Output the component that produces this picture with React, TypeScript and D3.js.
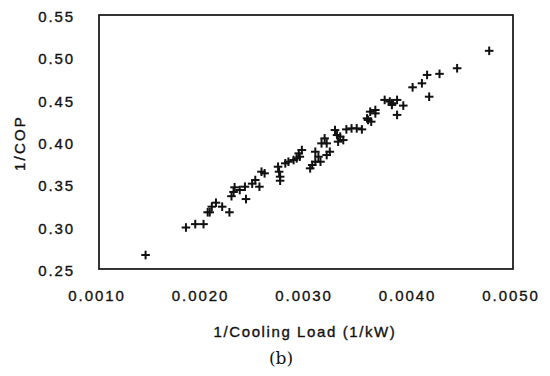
import React, { useMemo } from 'react';
import * as d3 from 'd3';

// 1/Cooling Load (1/kW) vs 1/COP
const loadInv: number[] = [
  0.00145, 0.00184, 0.00193, 0.00201, 0.00205, 0.00207, 0.00209, 0.00213, 0.00219,
  0.00226, 0.00228, 0.0023, 0.00231, 0.00236, 0.00242, 0.00241, 0.00248, 0.00251,
  0.00255, 0.00257, 0.0026, 0.00273, 0.00274, 0.00275, 0.00275, 0.0028, 0.00283,
  0.00288, 0.00291, 0.00294, 0.00293, 0.00296, 0.00304, 0.00306, 0.00309, 0.00312,
  0.00309, 0.00314, 0.00315, 0.00318, 0.0032, 0.0032, 0.00323, 0.00328, 0.0033,
  0.00333, 0.00331, 0.00336, 0.00339, 0.00344, 0.00349, 0.00354, 0.00359, 0.00362,
  0.00367, 0.00367, 0.0036, 0.00363, 0.00376, 0.00381, 0.00383, 0.00383, 0.00388,
  0.00388, 0.00394, 0.00403, 0.00412, 0.00417, 0.00429, 0.00419, 0.00446, 0.00477,
];
const copInv: number[] = [
  0.2665, 0.299, 0.303, 0.303, 0.317, 0.317, 0.3236, 0.3283, 0.3236,
  0.317, 0.336, 0.341, 0.3465, 0.3433, 0.3326, 0.3472, 0.3508, 0.3551,
  0.3472, 0.3649, 0.363, 0.3708, 0.3649, 0.359, 0.3543, 0.3748, 0.3767,
  0.3787, 0.3807, 0.3826, 0.3866, 0.3905, 0.3689, 0.3728, 0.3767, 0.3826,
  0.3885, 0.3767, 0.3984, 0.4043, 0.3846, 0.3984, 0.3885, 0.4141, 0.4082,
  0.4063, 0.4004, 0.4023, 0.4149, 0.4161, 0.4161, 0.4149, 0.4279, 0.4358,
  0.4338, 0.4378, 0.426, 0.424, 0.4497, 0.4478, 0.4438, 0.4458, 0.4497,
  0.432, 0.443, 0.4646, 0.4693, 0.4792, 0.4805, 0.4535, 0.4871, 0.5077,
];

const xTicks: number[] = [0.001, 0.002, 0.003, 0.004, 0.005];
const yTicks: number[] = [0.25, 0.3, 0.35, 0.4, 0.45, 0.5, 0.55];

const W = 550;
const H = 376;
const plot = { left: 99, right: 513, top: 15, bottom: 269 };
const FONT = '"Liberation Sans", Arial, sans-serif';

// shared look for the sans labels, a hair heavier like the scanned original
const labelStyle = {
  fontFamily: FONT,
  fontSize: 15,
  fill: '#111',
  stroke: '#111',
  strokeWidth: 0.35,
};

const App: React.FC = () => {
  const x = useMemo(() => d3.scaleLinear().domain([0.001, 0.005]).range([plot.left, plot.right]), []);
  const y = useMemo(() => d3.scaleLinear().domain([0.25, 0.55]).range([plot.bottom, plot.top]), []);

  const points = useMemo(
    () => loadInv.map((v, i) => ({ cx: x(v), cy: y(copInv[i]) })),
    [x, y]
  );

  const arm = 4.3;

  return (
    <svg
      width={W}
      height={H}
      style={{ position: 'absolute', left: 0, top: 0, background: '#fff' }}
    >
      <rect x={0} y={0} width={W} height={H} fill="#fff" />

      <rect
        x={plot.left}
        y={plot.top}
        width={plot.right - plot.left}
        height={plot.bottom - plot.top}
        fill="none"
        stroke="#111"
        strokeWidth={1.7}
      />

      {yTicks.map(t => (
        <text
          key={'y' + t}
          x={75}
          y={y(t) + 7}
          textAnchor="end"
          letterSpacing={1.9}
          {...labelStyle}
        >
          {t.toFixed(2)}
        </text>
      ))}

      {xTicks.map(t => (
        <text
          key={'x' + t}
          x={x(t) - 2}
          y={301}
          textAnchor="middle"
          letterSpacing={1.9}
          {...labelStyle}
        >
          {t.toFixed(4)}
        </text>
      ))}

      <text x={305} y={337} textAnchor="middle" letterSpacing={1.6} {...labelStyle}>
        1/Cooling Load (1/kW)
      </text>

      <text
        transform="translate(25,143) rotate(-90)"
        textAnchor="middle"
        letterSpacing={2.2}
        {...labelStyle}
      >
        1/COP
      </text>

      <text
        x={281}
        y={364}
        textAnchor="middle"
        fontFamily='"DejaVu Serif", "Liberation Serif", serif'
        fontSize={17}
        fill="#111"
      >
        (b)
      </text>

      <g stroke="#111" strokeWidth={2}>
        {points.map((p, i) => (
          <g key={i}>
            <line x1={p.cx - arm} x2={p.cx + arm} y1={p.cy} y2={p.cy} />
            <line x1={p.cx} x2={p.cx} y1={p.cy - arm} y2={p.cy + arm} />
          </g>
        ))}
      </g>
    </svg>
  );
};

export default App;
